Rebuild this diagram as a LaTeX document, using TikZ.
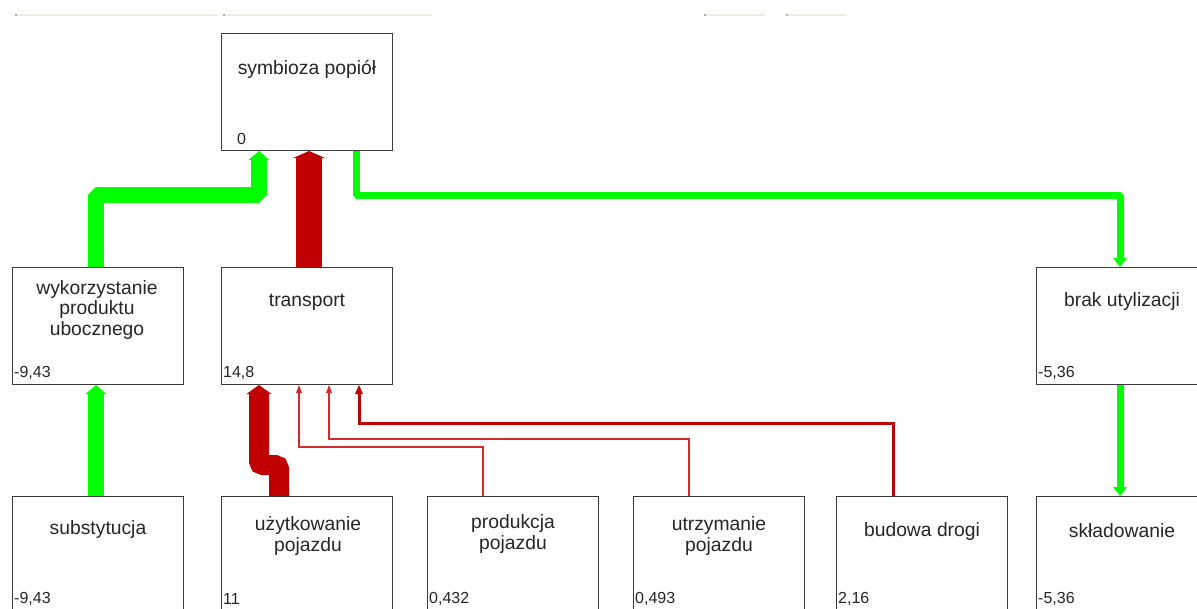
\documentclass[tikz,border=0pt]{standalone}
\usepackage{fontspec}
\setmainfont{Liberation Sans}
\usetikzlibrary{arrows.meta,calc}
\definecolor{gr}{HTML}{00FF00}
\definecolor{rd}{HTML}{C00000}
\definecolor{rdl}{HTML}{D42A2A}
\definecolor{bx}{HTML}{3A3A3A}
\definecolor{faint}{HTML}{ECECE4}
\begin{document}
\begin{tikzpicture}[x=1pt,y=-1pt,
  box/.style={draw=bx,line width=1pt,minimum width=171pt,minimum height=117pt,anchor=north west,inner sep=0pt,fill=white},
  lbl/.style={font=\fontsize{19.3}{20.5}\selectfont,align=center,inner sep=0pt,text=black!85},
  val/.style={font=\fontsize{16}{18}\selectfont,anchor=west,inner sep=0pt,text=black!85},
  gthick/.style={draw=gr,line width=16pt,line join=bevel,-{Triangle[width=21pt,length=9pt,line width=0pt 0]}},
  gthin/.style={draw=gr,line width=7pt,line join=bevel,-{Triangle[width=14pt,length=9pt,line width=0pt 0]}},
  rthick/.style={draw=rd,line width=26pt,-{Triangle[width=32pt,length=7pt,line width=0pt 0]}},
  rmid/.style={draw=rd,line width=20pt,rounded corners=4pt,-{Triangle[width=25pt,length=9pt,line width=0pt 0]}},
  rline/.style={line join=miter,-{Triangle[width=6pt,length=8pt,line width=0pt 0]}},
]
\clip (0,0) rectangle (1197,608);
\fill[white] (0,0) rectangle (1197,608);
% faint top strips
\foreach \a/\b in {15/217,223/432,704/765,786/847}{
  \draw[faint,line width=2pt] (\a,15) -- (\b,15);
  \fill[gray!60] (\a,14) rectangle (\a+1.5,16);
}
% boxes
\node[box] (sym) at (221,33) {};
\node[box] (wyk) at (12,267) {};
\node[box] (tra) at (221,267) {};
\node[box] (brak) at (1036,267) {};
\node[box] (sub) at (12,496) {};
\node[box] (uzy) at (221,496) {};
\node[box] (pro) at (427,496) {};
\node[box] (utr) at (633,496) {};
\node[box] (bud) at (836,496) {};
\node[box] (skl) at (1036,496) {};
% labels
\node[lbl] (symt) at ($(sym.north)+(0,36)$) {symbioza popiół};
\node[val] (symv) at ($(sym.north west)+(16,106)$) {0};
\node[lbl] (wykt) at ($(wyk.north)+(-1,43)$) {wykorzystanie\\produktu\\ubocznego};
\node[val] (wykv) at ($(wyk.north west)+(2,106)$) {-9,43};
\node[lbl] (trat) at ($(tra.north)+(0,35)$) {transport};
\node[val] (trav) at ($(tra.north west)+(2,106)$) {14,8};
\node[lbl] (brakt) at ($(brak.north west)+(86,35)$) {brak utylizacji};
\node[val] (brakv) at ($(brak.north west)+(2,106)$) {-5,36};
\node[lbl] (subt) at ($(sub.north)+(0,34)$) {substytucja};
\node[val] (subv) at ($(sub.north west)+(2,103)$) {-9,43};
\node[lbl] (uzyt) at ($(uzy.north)+(1,40)$) {użytkowanie\\pojazdu};
\node[val] (uzyv) at ($(uzy.north west)+(2,103)$) {11};
\node[lbl] (prot) at ($(pro.north)+(0,38)$) {produkcja\\pojazdu};
\node[val] (prov) at ($(pro.north west)+(2,103)$) {0,432};
\node[lbl] (utrt) at ($(utr.north)+(0,40)$) {utrzymanie\\pojazdu};
\node[val] (utrv) at ($(utr.north west)+(2,103)$) {0,493};
\node[lbl] (budt) at ($(bud.north)+(0,36)$) {budowa drogi};
\node[val] (budv) at ($(bud.north west)+(2,103)$) {2,16};
\node[lbl] (sklt) at ($(skl.north west)+(86,35)$) {składowanie};
\node[val] (sklv) at ($(skl.north west)+(2,103)$) {-5,36};
% connectors
\draw[gthick] ($(sub.north west)+(84,0)$) -- ($(wyk.south west)+(84,0)$);
\draw[gthick] ($(wyk.north west)+(84,0)$) |- ($(sym.south west)+(38,44)$) -- ($(sym.south west)+(38,0)$);
\draw[rthick] ($(tra.north west)+(88,0)$) -- ($(sym.south west)+(88,0)$);
\draw[gthin] ($(sym.south west)+(135,0)$) |- ($(brak.north west)+(84,-72)$) -- ($(brak.north west)+(84,0)$);
\draw[gthin] ($(brak.south west)+(84,0)$) -- ($(skl.north west)+(84,0)$);
\draw[rmid] ($(uzy.north west)+(58,0)$) |- ($(tra.south west)+(38,80)$) -- ($(tra.south west)+(38,0)$);
\draw[rline,draw=rdl,line width=1.2pt] ($(pro.north west)+(56,0)$) |- ($(tra.south west)+(78,62)$) -- ($(tra.south west)+(78,0)$);
\draw[rline,draw=rdl,line width=1.5pt] ($(utr.north west)+(56,0)$) |- ($(tra.south west)+(108,54)$) -- ($(tra.south west)+(108,0)$);
\draw[rline,draw=rd,line width=3pt,-{Triangle[width=8pt,length=9pt,line width=0pt 0]}] ($(bud.north west)+(57,0)$) |- ($(tra.south west)+(138,38)$) -- ($(tra.south west)+(138,0)$);
\end{tikzpicture}
\end{document}
